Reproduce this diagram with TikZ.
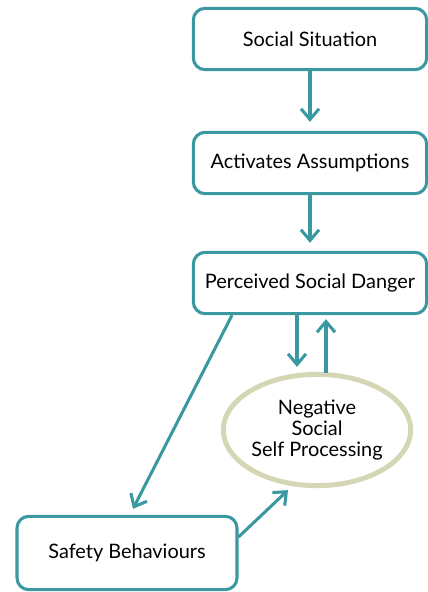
\documentclass[tikz,border=0pt]{standalone}
\usepackage{fontspec}
\setmainfont{Lato}
\usetikzlibrary{arrows.meta,positioning,calc,shapes.geometric}
\definecolor{cT}{HTML}{3a98a1}
\definecolor{cO}{HTML}{d4d6b4}
\tikzset{
  stage/.style={rectangle,rounded corners=10pt,draw=cT,line width=2.6pt,fill=white,
              minimum width=7.0cm,minimum height=1.84cm,align=center,font=\fontsize{17}{19}\selectfont},
  loopnode/.style={ellipse,draw=cO,line width=4.2pt,fill=white,
              minimum width=5.62cm,minimum height=3.34cm,inner sep=0pt,align=center,
              font=\fontsize{17}{18}\selectfont},
  flow/.style={-{Straight Barb[length=3.2mm,width=5.4mm,line width=2.6pt]},line width=2.6pt,cT},
}

\begin{document}
\begin{tikzpicture}[x=0.03cm,y=-0.03cm]
  \useasboundingbox (0,0) rectangle (428,592);
  \node[stage](soc) at (310,39){Social Situation};
  \node[stage](act) at (310,163){Activates Assumptions};
  \node[stage](perc) at (310,283){Perceived Social Danger};
  \node[stage,minimum width=6.6cm,minimum height=2.2cm](safe) at (127,553){Safety Behaviours};
  \node[loopnode](nsp) at (317,430){Negative\\Social\\Self Processing};
  % main chain
  \draw[flow] (soc.south) -- ($(act.north)+(0,-9)$);
  \draw[flow] (act.south) -- ($(perc.north)+(0,-8)$);
  % loop with the self processing
  \draw[flow] ($(perc.south)+(-13,0)$) -- ($(nsp.north)+(-20,-5)$);
  \draw[flow] ($(nsp.north)+(9,1)$) -- ($(perc.south)+(16,4)$);
  \draw[flow] ($(perc.south)+(-78,0)$) -- ($(safe.north)+(6,-6)$);
  \draw[flow] ($(safe.east)+(0,-16)$) -- ($(nsp.south)+(-29,2)$);
\end{tikzpicture}
\end{document}
